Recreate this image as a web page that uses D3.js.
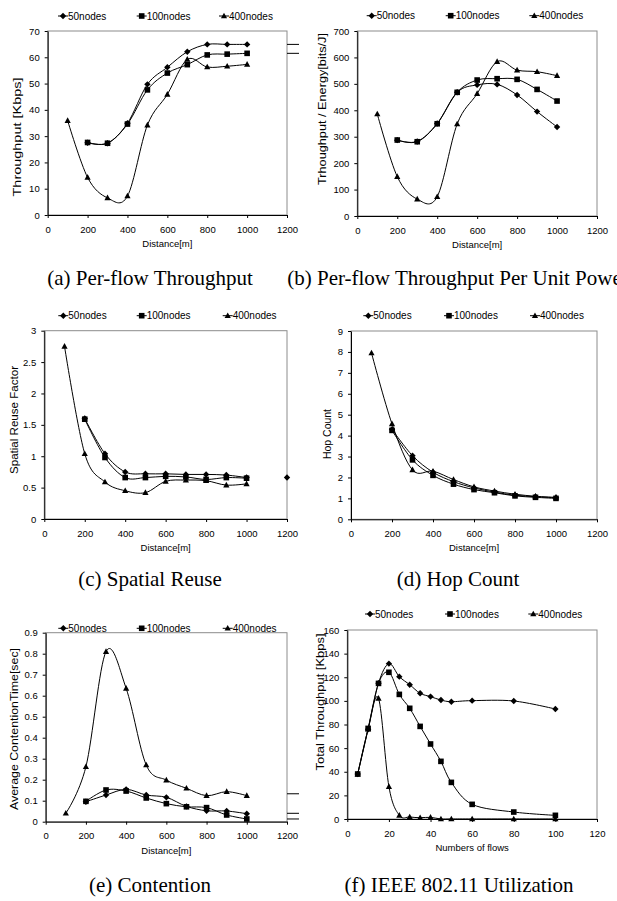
<!DOCTYPE html>
<html>
<head>
<meta charset="utf-8">
<script src="https://cdn.jsdelivr.net/npm/d3@7"></script>
<style>
body { margin: 0; background: #fff; }
svg text { font-family: "Liberation Sans", Arial, sans-serif; fill: #000; }
.cap { font-family: "Liberation Serif", "Times New Roman", serif; font-size: 21px; }
.tick text { font-size: 9.5px; }
</style>
</head>
<body>
<svg id="fig" width="617" height="901"></svg>
<script>
// ---- data ----
const seriesNames = ['50nodes', '100nodes', '400nodes'];

const dist100 = [100, 200, 300, 400, 500, 600, 700, 800, 900, 1000];
const dist200 = [200, 300, 400, 500, 600, 700, 800, 900, 1000];
const flows = [5, 10, 15, 20, 25, 30, 35, 40, 45, 50, 60, 80, 100];

const distTicks = [0, 200, 400, 600, 800, 1000, 1200];
const flowTicks = [0, 20, 40, 60, 80, 100, 120];
const tputTicks = [0, 10, 20, 30, 40, 50, 60, 70];
const energyTicks = [0, 100, 200, 300, 400, 500, 600, 700];
const reuseTicks = [0, 0.5, 1, 1.5, 2, 2.5, 3];
const hopTicks = [0, 1, 2, 3, 4, 5, 6, 7, 8, 9];
const contTicks = [0, 0.1, 0.2, 0.3, 0.4, 0.5, 0.6, 0.7, 0.8, 0.9];
const totalTicks = [0, 20, 40, 60, 80, 100, 120, 140, 160];

// (a) per-flow throughput
const tput50 = [27.5, 27.3, 34.9, 49.7, 56.2, 62.1, 64.9, 64.9, 64.9];
const tput100 = [27.6, 27.3, 34.6, 47.6, 54.0, 57.2, 60.9, 61.2, 61.5];
const tput400 = [35.9, 14.3, 6.5, 7.2, 34.2, 45.9, 59.2, 56.3, 56.6, 57.3];
const tputStubs = [64.9, 61.5];

// (b) throughput per unit power
const energy50 = [287, 282, 350, 468, 496, 498, 458, 395, 337];
const energy100 = [287.5, 281, 349, 468, 514.5, 519.5, 517, 479, 435];
const energy400 = [386, 149, 64, 73, 348, 463, 584, 552, 546, 531];

// (c) spatial reuse
const reuse50 = [1.6, 1.04, 0.75, 0.72, 0.72, 0.71, 0.71, 0.70, 0.66];
const reuse100 = [1.59, 0.98, 0.66, 0.66, 0.68, 0.67, 0.63, 0.66, 0.65];
const reuse400 = [2.75, 1.04, 0.59, 0.45, 0.42, 0.60, 0.62, 0.61, 0.54, 0.56];
const reuseStrayX = [1200];
const reuseStrayY = [0.66];

// (d) hop count
const hop50 = [4.3, 3.04, 2.25, 1.8, 1.5, 1.3, 1.15, 1.08, 1.03];
const hop100 = [4.25, 2.84, 2.1, 1.68, 1.42, 1.27, 1.12, 1.05, 1.0];
const hop400 = [7.95, 4.56, 2.36, 2.3, 1.9, 1.55, 1.35, 1.2, 1.1, 1.05];

// (e) contention
const cont50 = [0.095, 0.127, 0.154, 0.127, 0.116, 0.073, 0.052, 0.051, 0.038];
const cont100 = [0.097, 0.151, 0.146, 0.113, 0.086, 0.071, 0.067, 0.032, 0.013];
const cont400 = [0.04, 0.262, 0.81, 0.635, 0.27, 0.198, 0.159, 0.124, 0.143, 0.124];
const contStubs = [0.133, 0.04, 0.013];

// (f) IEEE 802.11 utilization
const total50 = [38, 76, 115, 131.5, 120.5, 113.7, 106.4, 103.6, 100.7, 99.3, 100.2, 99.9, 93.1];
const total100 = [38.1, 76.7, 114.8, 124.2, 105.5, 93.7, 78.4, 63.5, 48.8, 31, 12.4, 5.9, 3.1];
const total400 = [38, 76, 102.1, 27.4, 3.1, 1.7, 1.1, 1.4, 0, 0, 0, 0, 0];

// ---- layout ----
const panels = [
  { box: [47.7, 31, 287, 215], xDom: [0, 1200], xTicks: distTicks, yDom: [0, 70], yTicks: tputTicks,
    xTitle: 'Distance[m]', yTitle: 'Throughput [Kbps]', yLen: 119, yPos: [17, 137],
    legY: 16, legX: [63, 141.7, 224],
    series: [[dist200, tput50], [dist200, tput100], [dist100, tput400]], stubs: tputStubs,
    caption: '(a) Per-flow Throughput', capPos: [150, 285] },
  { box: [357.3, 31, 597, 216], xDom: [0, 1200], xTicks: distTicks, yDom: [0, 700], yTicks: energyTicks,
    xTitle: 'Distance[m]', yTitle: 'Trhoughput / Energy[bits/J]', yLen: 152, yPos: [322, 109],
    legY: 15.7, legX: [371.7, 450.7, 534.3],
    series: [[dist200, energy50], [dist200, energy100], [dist100, energy400]],
    caption: '(b) Per-flow Throughput Per Unit Power', capPos: [458, 285] },
  { box: [44.3, 330.7, 287, 519], xDom: [0, 1200], xTicks: distTicks, yDom: [0, 3], yTicks: reuseTicks,
    xTitle: 'Distance[m]', yTitle: 'Spatial Reuse Factor', yLen: 108, yPos: [14, 420],
    legY: 315.7, legX: [63.3, 141.7, 227.7],
    series: [[dist200, reuse50], [dist200, reuse100], [dist100, reuse400]], stray: [reuseStrayX, reuseStrayY],
    caption: '(c) Spatial Reuse', capPos: [150, 586] },
  { box: [351, 331, 597, 519.3], xDom: [0, 1200], xTicks: distTicks, yDom: [0, 9], yTicks: hopTicks,
    xTitle: 'Distance[m]', yTitle: 'Hop Count', yLen: 50, yPos: [327, 434],
    legY: 315.7, legX: [368.3, 449, 535],
    series: [[dist200, hop50], [dist200, hop100], [dist100, hop400]],
    caption: '(d) Hop Count', capPos: [458, 586] },
  { box: [45.7, 632.7, 287, 821.7], xDom: [0, 1200], xTicks: distTicks, yDom: [0, 0.9], yTicks: contTicks,
    xTitle: 'Distance[m]', yTitle: 'Average ContentionTime[sec]', yLen: 162, yPos: [14.5, 729],
    legY: 628.3, legX: [63.3, 141.7, 227.7],
    series: [[dist200, cont50], [dist200, cont100], [dist100, cont400]], stubs: contStubs,
    caption: '(e) Contention', capPos: [150, 892] },
  { box: [347.3, 630, 597, 819], xDom: [0, 120], xTicks: flowTicks, yDom: [0, 160], yTicks: totalTicks,
    xTitle: 'Numbers of flows', yTitle: 'Total Throughput [Kbps]', yLen: 137, yPos: [320, 702],
    legY: 614, legX: [370, 450, 533.3],
    series: [[flows, total50], [flows, total100], [flows, total400]],
    caption: '(f) IEEE 802.11 Utilization', capPos: [459, 892] }
];

const svg = d3.select('#fig');

function marker(g, kind, x, y) {
  if (kind === 0) {
    g.append('path').attr('d', `M${x},${y - 3.2}L${x + 3.2},${y}L${x},${y + 3.2}L${x - 3.2},${y}Z`);
  } else if (kind === 1) {
    g.append('rect').attr('x', x - 2.8).attr('y', y - 2.8).attr('width', 5.6).attr('height', 5.6);
  } else {
    g.append('path').attr('d', `M${x},${y - 3.3}L${x + 3.1},${y + 2.3}L${x - 3.1},${y + 2.3}Z`);
  }
}

panels.forEach(function (p) {
  const [x0, y0, x1, y1] = p.box;
  const x = d3.scaleLinear().domain(p.xDom).range([x0, x1]);
  const y = d3.scaleLinear().domain(p.yDom).range([y1, y0]);
  const g = svg.append('g');

  // plot area frame
  g.append('rect').attr('x', x0).attr('y', y0).attr('width', x1 - x0).attr('height', y1 - y0)
    .attr('fill', 'none').attr('stroke', '#8c8c8c').attr('stroke-width', 1);

  // axes
  g.append('g').attr('transform', 'translate(0,' + y1 + ')')
    .call(d3.axisBottom(x).tickValues(p.xTicks).tickFormat(String).tickSizeInner(3).tickSizeOuter(0).tickPadding(8));
  g.append('g').attr('transform', 'translate(' + x0 + ',0)')
    .call(d3.axisLeft(y).tickValues(p.yTicks).tickFormat(String).tickSizeInner(3).tickSizeOuter(0).tickPadding(5));

  // axis titles
  g.append('text').attr('x', (x0 + x1) / 2).attr('y', y1 + 32).attr('text-anchor', 'middle')
    .style('font-size', '9.5px').text(p.xTitle);
  g.append('text').attr('transform', 'translate(' + p.yPos[0] + ',' + p.yPos[1] + ') rotate(-90)')
    .attr('text-anchor', 'middle').attr('dy', '0.35em')
    .attr('textLength', p.yLen).attr('lengthAdjust', 'spacingAndGlyphs')
    .style('font-size', '10px').text(p.yTitle);

  // series
  const line = d3.line().x(d => x(d[0])).y(d => y(d[1])).curve(d3.curveCardinal.tension(0));
  p.series.forEach(function (s, k) {
    const pts = s[0].map((v, i) => [v, s[1][i]]);
    g.append('path').datum(pts).attr('d', line)
      .attr('fill', 'none').attr('stroke', '#000').attr('stroke-width', 1);
    const mg = g.append('g').attr('fill', '#000');
    pts.forEach(d => marker(mg, k, x(d[0]), y(d[1])));
  });

  // stray bits sitting outside the plot area in the original
  if (p.stubs) {
    p.stubs.forEach(v => g.append('line')
      .attr('x1', x1).attr('x2', x1 + 12).attr('y1', y(v)).attr('y2', y(v))
      .attr('stroke', '#000').attr('stroke-width', 1));
  }
  if (p.stray) {
    const mg = g.append('g').attr('fill', '#000');
    p.stray[0].forEach((v, i) => marker(mg, 0, x(v), y(p.stray[1][i])));
  }

  // legend
  const lg = g.append('g').attr('fill', '#000');
  seriesNames.forEach(function (name, k) {
    const cx = p.legX[k];
    lg.append('line').attr('x1', cx - 5).attr('x2', cx + 5).attr('y1', p.legY).attr('y2', p.legY)
      .attr('stroke', '#000').attr('stroke-width', 1);
    marker(lg, k, cx, p.legY);
    lg.append('text').attr('x', cx + 5).attr('y', p.legY).attr('dy', '0.35em')
      .style('font-size', '10px').text(name);
  });

  // caption
  svg.append('text').attr('class', 'cap').attr('x', p.capPos[0]).attr('y', p.capPos[1])
    .attr('text-anchor', 'middle').text(p.caption);
});
</script>
</body>
</html>
